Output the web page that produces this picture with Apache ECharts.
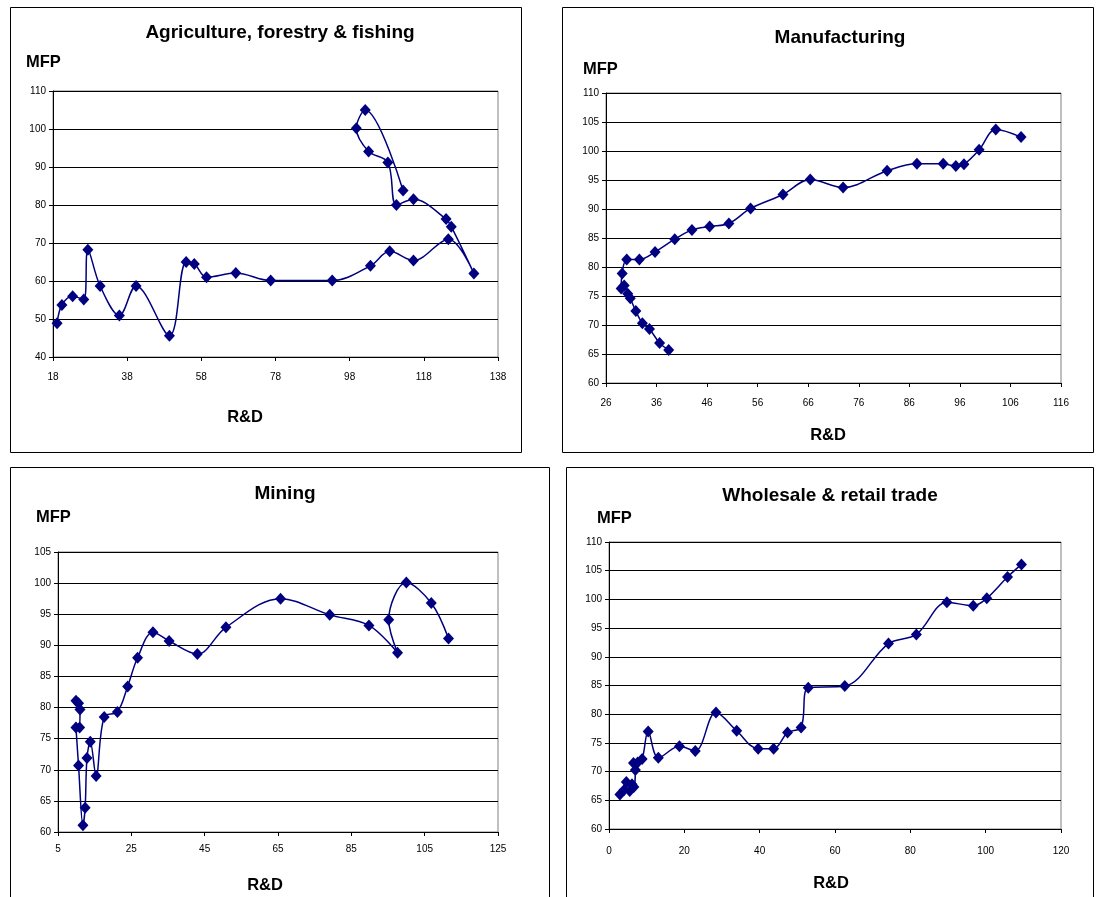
<!DOCTYPE html>
<html>
<head>
<meta charset="utf-8">
<script src="https://cdn.jsdelivr.net/npm/echarts@6/dist/echarts.min.js"></script>
<style>
  html, body { margin: 0; padding: 0; background: #fff; }
  #chart { width: 1101px; height: 897px; }
</style>
</head>
<body>
<div id="chart"></div>
<script>
// Agriculture, forestry & fishing (path order as drawn)
const agriRD  = [19.1, 20.4, 23.3, 26.3, 27.4, 30.7, 35.9, 40.4, 49.4, 53.9, 56.1, 59.4, 67.3, 76.7, 93.3, 103.6, 108.8, 115.2, 124.6, 131.5, 125.4, 124.0, 115.2, 110.6, 108.3, 103.1, 99.8, 102.2, 112.4]
const agriMFP = [48.9, 53.7, 56.0, 55.1, 68.2, 58.7, 50.9, 58.7, 45.6, 65.0, 64.5, 61.0, 62.1, 60.1, 60.1, 64.0, 67.8, 65.4, 71.0, 62.0, 74.3, 76.3, 81.5, 80.0, 91.2, 94.1, 100.2, 105.0, 83.8]

// Manufacturing
const manuRD  = [38.4, 36.6, 34.6, 33.2, 31.9, 30.8, 30.3, 29.6, 29.0, 29.2, 30.1, 32.6, 35.7, 39.6, 43.0, 46.5, 50.3, 54.6, 61.0, 66.4, 72.9, 81.6, 87.5, 92.7, 95.2, 96.8, 99.8, 103.1, 108.1]
const manuMFP = [65.7, 66.9, 69.3, 70.3, 72.4, 74.6, 75.4, 76.8, 76.3, 78.9, 81.3, 81.3, 82.6, 84.8, 86.4, 87.0, 87.5, 90.1, 92.5, 95.1, 93.7, 96.6, 97.8, 97.8, 97.4, 97.7, 100.2, 103.7, 102.4]

// Mining
const minRD  = [10.6, 9.9, 11.0, 10.9, 9.9, 10.6, 11.8, 12.4, 12.9, 13.8, 15.4, 17.6, 21.2, 24.0, 26.7, 30.9, 35.3, 43.0, 50.8, 65.7, 79.1, 89.8, 97.6, 95.2, 100.0, 106.8, 111.5]
const minMFP = [80.7, 81.1, 79.7, 76.8, 76.8, 70.7, 61.1, 63.9, 71.9, 74.5, 69.0, 78.5, 79.3, 83.4, 88.0, 92.1, 90.7, 88.6, 92.9, 97.5, 94.9, 93.2, 88.8, 94.1, 100.1, 96.8, 91.1]

// Wholesale & retail trade
const wsRD  = [2.9, 4.0, 4.6, 5.5, 6.1, 6.6, 7.0, 6.5, 7.6, 8.8, 10.4, 13.1, 18.7, 22.9, 28.4, 33.9, 39.6, 43.7, 47.4, 51.0, 52.9, 62.6, 74.2, 81.6, 89.7, 96.7, 100.3, 105.8, 109.5]
const wsMFP = [66.0, 66.8, 68.2, 66.6, 67.8, 67.3, 70.3, 71.5, 71.6, 72.2, 77.0, 72.4, 74.4, 73.6, 80.3, 77.1, 74.0, 74.0, 76.8, 77.7, 84.6, 84.9, 92.3, 93.9, 99.5, 98.9, 100.2, 103.9, 106.1]

// tick labels
const agriTicks = [18, 38, 58, 78, 98, 118, 138]
const manuTicks = [26, 36, 46, 56, 66, 76, 86, 96, 106, 116]
const minTicks  = [5, 25, 45, 65, 85, 105, 125]
const wsTicks   = [0, 20, 40, 60, 80, 100, 120]

const panels = [
  { title: 'Agriculture, forestry & fishing', rd: agriRD, mfp: agriMFP, xTicks: agriTicks,
    yMin: 40, yMax: 110, yStep: 10,
    box: [10, 7, 511, 445], grid: { left: 53, top: 91, width: 445, height: 266 },
    titlePos: [280, 33], mfpPos: [26, 62], rdPos: [245, 417], xMargin: 15 },
  { title: 'Manufacturing', rd: manuRD, mfp: manuMFP, xTicks: manuTicks,
    yMin: 60, yMax: 110, yStep: 5,
    box: [562, 7, 531, 445], grid: { left: 606, top: 93, width: 455, height: 290 },
    titlePos: [840, 38], mfpPos: [583, 69], rdPos: [828, 435], xMargin: 15 },
  { title: 'Mining', rd: minRD, mfp: minMFP, xTicks: minTicks,
    yMin: 60, yMax: 105, yStep: 5,
    box: [10, 467, 539, 440], grid: { left: 58, top: 552, width: 440, height: 280 },
    titlePos: [285, 494], mfpPos: [36, 517], rdPos: [265, 885], xMargin: 12 },
  { title: 'Wholesale & retail trade', rd: wsRD, mfp: wsMFP, xTicks: wsTicks,
    yMin: 60, yMax: 110, yStep: 5,
    box: [566, 467, 527, 440], grid: { left: 609, top: 542, width: 452, height: 287 },
    titlePos: [830, 496], mfpPos: [597, 518], rdPos: [831, 883], xMargin: 17 }
]

const font = 'Liberation Sans, Arial, sans-serif'
const grids = [], xAxes = [], yAxes = [], series = [], graphics = []

panels.forEach((p, i) => {
  grids.push({ left: p.grid.left, top: p.grid.top, width: p.grid.width, height: p.grid.height,
    show: true, borderColor: '#808080', borderWidth: 1, containLabel: false })
  xAxes.push({
    type: 'value', gridIndex: i, min: p.xTicks[0], max: p.xTicks[p.xTicks.length - 1],
    axisLine: { show: true, onZero: false, lineStyle: { color: '#000', width: 1 } },
    axisTick: { show: true, length: 4, customValues: p.xTicks, lineStyle: { color: '#000' } },
    axisLabel: { customValues: p.xTicks, fontSize: 10, color: '#000', margin: p.xMargin, fontFamily: font },
    splitLine: { show: false }
  })
  yAxes.push({
    type: 'value', gridIndex: i, min: p.yMin, max: p.yMax, interval: p.yStep,
    axisLine: { show: true, lineStyle: { color: '#000', width: 1 } },
    axisTick: { show: true, length: 4, lineStyle: { color: '#000' } },
    axisLabel: { fontSize: 10, color: '#000', margin: 7, fontFamily: font },
    splitLine: { show: true, lineStyle: { color: '#000', width: 1 } }
  })
  series.push({
    type: 'line', xAxisIndex: i, yAxisIndex: i,
    data: p.rd.map((x, k) => [x, p.mfp[k]]),
    smooth: 0.35,
    symbol: 'diamond', symbolSize: [11, 12],
    lineStyle: { color: '#000080', width: 1.5 },
    itemStyle: { color: '#000080' },
    animation: false
  })
  graphics.push({ type: 'rect', shape: { x: p.box[0] + 0.5, y: p.box[1] + 0.5, width: p.box[2], height: p.box[3] },
    style: { fill: 'none', stroke: '#000', lineWidth: 1 }, z: 0 })
  graphics.push({ type: 'text', x: p.titlePos[0], y: p.titlePos[1],
    style: { text: p.title, font: 'bold 19px ' + font, fill: '#000', textAlign: 'center', textVerticalAlign: 'middle' } })
  graphics.push({ type: 'text', x: p.mfpPos[0], y: p.mfpPos[1],
    style: { text: 'MFP', font: 'bold 16.5px ' + font, fill: '#000', textAlign: 'left', textVerticalAlign: 'middle' } })
  graphics.push({ type: 'text', x: p.rdPos[0], y: p.rdPos[1],
    style: { text: 'R&D', font: 'bold 16.5px ' + font, fill: '#000', textAlign: 'center', textVerticalAlign: 'middle' } })
})

const chart = echarts.init(document.getElementById('chart'))
chart.setOption({
  animation: false,
  grid: grids,
  xAxis: xAxes,
  yAxis: yAxes,
  series: series,
  graphic: graphics
})
</script>
</body>
</html>
